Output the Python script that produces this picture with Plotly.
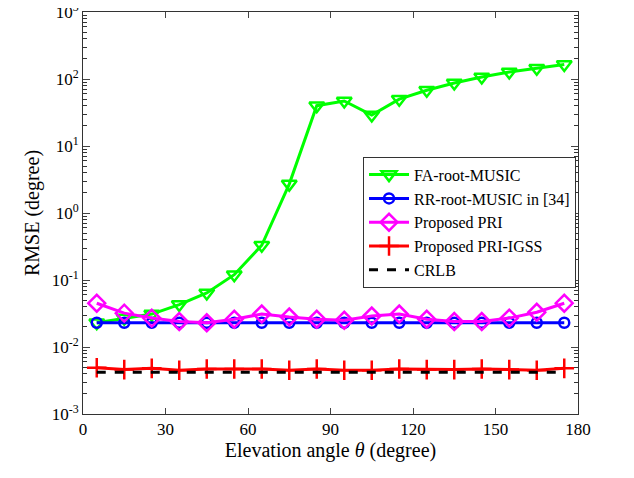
import plotly.graph_objects as go

theta = [5, 15, 25, 35, 45, 55, 65, 75, 85, 95, 105, 115, 125, 135, 145, 155, 165, 175]
fa_root_music = [0.023, 0.027, 0.031, 0.043, 0.064, 0.12, 0.33, 2.7, 40, 47, 29, 50, 68, 87, 107, 127, 145, 165]
rr_root_music = [0.023] * 18
proposed_pri = [0.045, 0.032, 0.027, 0.024, 0.023, 0.026, 0.031, 0.028, 0.026, 0.025, 0.029, 0.031, 0.026, 0.024, 0.024, 0.027, 0.033, 0.045]
proposed_pri_igss = [0.0049, 0.0046, 0.0048, 0.0045, 0.0047, 0.0047, 0.0047, 0.0045, 0.0047, 0.0045, 0.0045, 0.0047, 0.0046, 0.0046, 0.0047, 0.0046, 0.0045, 0.0048]
crlb = [0.0042] * 18

y_tickvals = [1e-3, 1e-2, 1e-1, 1, 10, 100, 1000]
y_ticktext = ["10<sup>-3</sup>", "10<sup>-2</sup>", "10<sup>-1</sup>", "10<sup>0</sup>", "10<sup>1</sup>", "10<sup>2</sup>", "10<sup>3</sup>"]
y_minor_tickvals = [m * 10.0 ** e for e in range(-3, 3) for m in range(2, 10)]
x_tickvals = [0, 30, 60, 90, 120, 150, 180]

FONT = "Times New Roman, Liberation Serif, serif"
fig = go.Figure()
fig.add_trace(go.Scatter(x=theta, y=fa_root_music, name="FA-root-MUSIC", mode="lines+markers",
                         line=dict(color="#00ff00", width=3),
                         marker=dict(symbol="triangle-down-open", size=13, color="#00ff00", line=dict(width=2.5, color="#00ff00"))))
fig.add_trace(go.Scatter(x=theta, y=rr_root_music, name="RR-root-MUSIC in [34]", mode="lines+markers",
                         line=dict(color="#0000ff", width=3),
                         marker=dict(symbol="circle-open", size=10, color="#0000ff", line=dict(width=2.5, color="#0000ff"))))
fig.add_trace(go.Scatter(x=theta, y=proposed_pri, name="Proposed PRI", mode="lines+markers",
                         line=dict(color="#ff00ff", width=3),
                         marker=dict(symbol="diamond-open", size=13, color="#ff00ff", line=dict(width=2.5, color="#ff00ff"))))
fig.add_trace(go.Scatter(x=theta, y=proposed_pri_igss, name="Proposed PRI-IGSS", mode="lines+markers",
                         line=dict(color="#ff0000", width=3),
                         marker=dict(symbol="cross-thin-open", size=14, color="#ff0000", line=dict(width=2.5, color="#ff0000"))))
fig.add_trace(go.Scatter(x=theta, y=crlb, name="CRLB", mode="lines",
                         line=dict(color="black", width=3, dash="dash")))
# invisible carrier trace so that the minor-tick overlay axis is drawn
fig.add_trace(go.Scatter(x=theta, y=crlb, yaxis="y2", mode="lines", line=dict(width=0, color="rgba(0,0,0,0)"),
                         showlegend=False, hoverinfo="skip"))

fig.update_layout(
    width=626, height=470,
    margin=dict(l=75, r=56, t=4, b=64),
    paper_bgcolor="white", plot_bgcolor="white",
    font=dict(family=FONT, size=17, color="black"),
    showlegend=True,
    legend=dict(x=0.996, y=0.64, xanchor="right", yanchor="top",
                bgcolor="white", bordercolor="#333333", borderwidth=1,
                font=dict(family=FONT, size=16), tracegroupgap=0, itemwidth=40),
    yaxis2=dict(type="log", overlaying="y", anchor="x", side="left", range=[-3, 3], tickmode="array",
                tickvals=y_minor_tickvals, ticks="inside", ticklen=4, tickwidth=1, tickcolor="#333333",
                showticklabels=False, showgrid=False, zeroline=False, showline=False,
                mirror="ticks", automargin=False),
)
fig.update_xaxes(range=[0, 180], tickvals=x_tickvals, ticks="inside", ticklen=6,
                 showline=True, linecolor="#333333", linewidth=1, mirror="ticks",
                 showgrid=False, zeroline=False, automargin=False,
                 tickfont=dict(family=FONT, size=17),
                 title=dict(text="Elevation angle <i>θ</i> (degree)", font=dict(family=FONT, size=20), standoff=4))
fig.layout.yaxis.update(type="log", range=[-3, 3], tickvals=y_tickvals, ticktext=y_ticktext,
                        ticks="inside", ticklen=7, ticklabeloverflow="allow",
                        showline=True, linecolor="#333333", linewidth=1, mirror="ticks",
                        showgrid=False, zeroline=False, automargin=False,
                        tickfont=dict(family=FONT, size=17),
                        title=dict(text="RMSE (degree)", font=dict(family=FONT, size=20), standoff=6))

fig.write_html("out.html")
